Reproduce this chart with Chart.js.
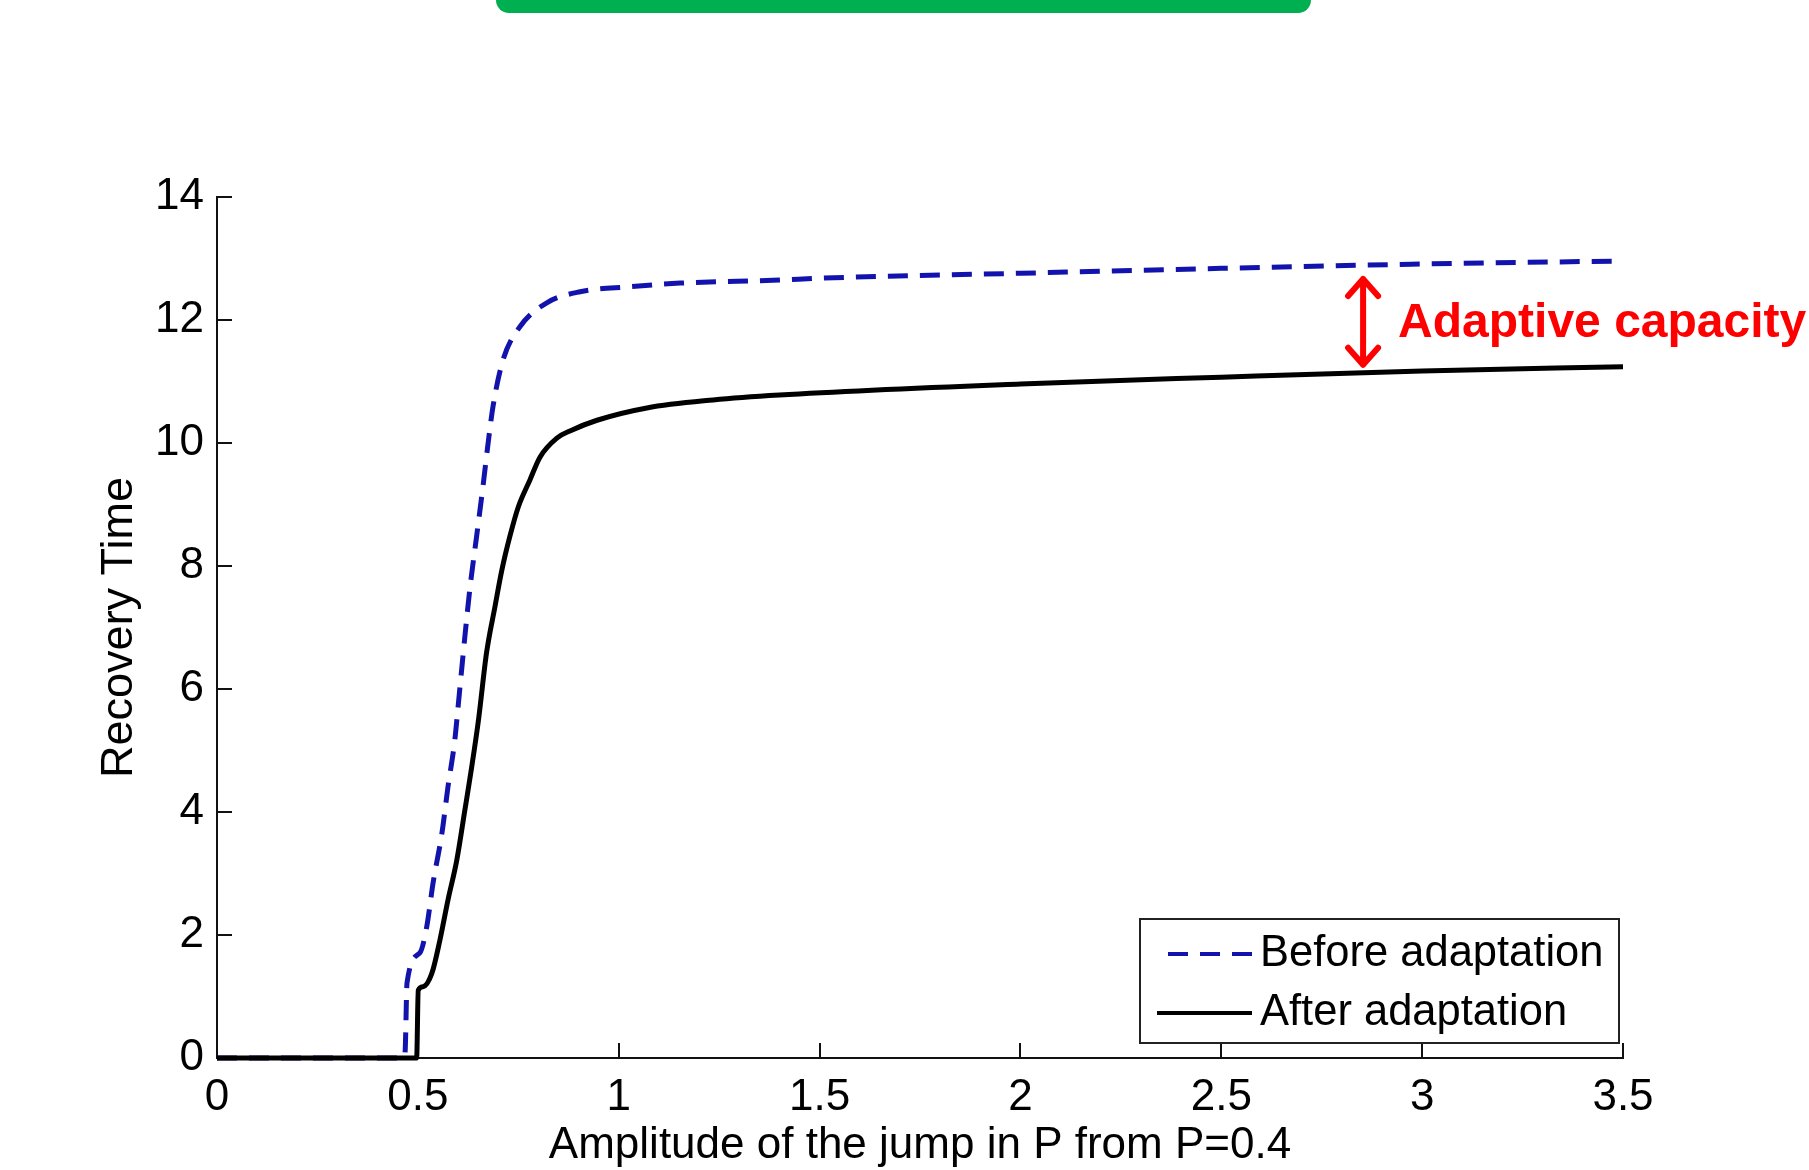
<!DOCTYPE html>
<html>
<head>
<meta charset="utf-8">
<script src="https://cdn.jsdelivr.net/npm/chart.js@4/dist/chart.umd.min.js"></script>
<style>
  body { margin: 0; background: #fff; }
  #wrap { position: relative; width: 1809px; height: 1170px; }
  #banner {
    position: absolute; left: 496px; top: 0; width: 815px; height: 13px;
    background: #00b050; border-radius: 0 0 16px 16px;
  }
  #chart { position: absolute; left: 0; top: 0; }
</style>
</head>
<body>
<div id="wrap">
  <canvas id="chart" width="1809" height="1170"></canvas>
  <div id="banner"></div>
</div>
<script>
// jump amplitude (x) and recovery time (y)
const beforeX = [0, 0.46, 0.468, 0.473, 0.505, 0.522, 0.538, 0.56, 0.575, 0.592, 0.6, 0.617,
  0.63, 0.646, 0.662, 0.674, 0.687, 0.712, 0.754, 0.821, 0.904, 1.028, 1.153, 1.4, 1.5,
  2.0, 2.5, 3.0, 3.5];
const beforeY = [0, 0, 0.08, 1.22, 1.71, 2.13, 2.85, 3.66, 4.41, 5.17, 5.7, 6.85,
  7.66, 8.47, 9.29, 9.95, 10.59, 11.35, 11.89, 12.28, 12.46, 12.54, 12.6, 12.65, 12.68,
  12.76, 12.84, 12.91, 12.96];

const afterX = [0, 0.497, 0.501, 0.513, 0.535, 0.555, 0.575, 0.597, 0.617, 0.634, 0.651,
  0.671, 0.692, 0.709, 0.729, 0.75, 0.779, 0.804, 0.846, 0.88, 0.946, 1.07, 1.235, 1.4,
  2.0, 2.5, 3.0, 3.5];
const afterY = [0, 0, 1.1, 1.16, 1.38, 1.92, 2.57, 3.22, 4.03, 4.73, 5.5,
  6.59, 7.34, 7.93, 8.48, 8.96, 9.4, 9.77, 10.08, 10.2, 10.37, 10.57, 10.7, 10.78,
  10.96, 11.07, 11.17, 11.24];

const seriesNames = ['Before adaptation', 'After adaptation'];
const xTicks = [0, 0.5, 1, 1.5, 2, 2.5, 3, 3.5];
const yTicks = [0, 2, 4, 6, 8, 10, 12, 14];

// annotation: arrow between the curves
const arrowX = 2.853;
const arrowTop = 12.7;
const arrowBottom = 11.24;
const arrowLabel = 'Adaptive capacity';

const FONT = '"Liberation Sans", Arial, Helvetica, sans-serif';

function toPoints(xs, ys) {
  return xs.map((x, i) => ({ x: x, y: ys[i] }));
}

// MATLAB style inward tick marks
const inwardTicks = {
  id: 'inwardTicks',
  beforeDatasetsDraw(chart) {
    const { ctx, scales: { x, y }, chartArea } = chart;
    ctx.save();
    ctx.strokeStyle = '#111';
    ctx.lineWidth = 2;
    ctx.beginPath();
    for (const v of xTicks) {
      const px = Math.round(x.getPixelForValue(v));
      ctx.moveTo(px, chartArea.bottom);
      ctx.lineTo(px, chartArea.bottom - 15);
    }
    for (const v of yTicks) {
      const py = Math.round(y.getPixelForValue(v));
      ctx.moveTo(chartArea.left, py);
      ctx.lineTo(chartArea.left + 15, py);
    }
    ctx.stroke();
    ctx.restore();
  }
};

const boxLegend = {
  id: 'boxLegend',
  afterDatasetsDraw(chart) {
    const ctx = chart.ctx;
    const left = 1140, top = 919, w = 479, h = 124;
    ctx.save();
    ctx.fillStyle = '#fff';
    ctx.fillRect(left, top, w, h);
    ctx.strokeStyle = '#222';
    ctx.lineWidth = 2;
    ctx.strokeRect(left, top, w, h);
    const rows = [954, 1013];
    const starts = [1168, 1157];
    chart.data.datasets.forEach((ds, i) => {
      ctx.strokeStyle = ds.borderColor;
      ctx.lineWidth = 4;
      ctx.setLineDash(ds.borderDash || []);
      ctx.beginPath();
      ctx.moveTo(starts[i], rows[i]);
      ctx.lineTo(1252, rows[i]);
      ctx.stroke();
      ctx.setLineDash([]);
      ctx.fillStyle = '#000';
      ctx.font = '43.5px ' + FONT;
      ctx.textBaseline = 'middle';
      ctx.textAlign = 'left';
      ctx.fillText(ds.label, 1260, rows[i]);
    });
    ctx.restore();
  }
};

const capacityArrow = {
  id: 'capacityArrow',
  afterDatasetsDraw(chart) {
    const { ctx, scales: { x, y } } = chart;
    const px = x.getPixelForValue(arrowX);
    const y1 = y.getPixelForValue(arrowTop);
    const y2 = y.getPixelForValue(arrowBottom);
    ctx.save();
    ctx.strokeStyle = '#ff0000';
    ctx.lineWidth = 6;
    ctx.lineCap = 'round';
    ctx.lineJoin = 'round';
    ctx.beginPath();
    ctx.moveTo(px, y1 + 2);
    ctx.lineTo(px, y2 - 2);
    ctx.moveTo(px - 15, y1 + 19);
    ctx.lineTo(px, y1 + 2);
    ctx.lineTo(px + 15, y1 + 19);
    ctx.moveTo(px - 15, y2 - 19);
    ctx.lineTo(px, y2 - 2);
    ctx.lineTo(px + 15, y2 - 19);
    ctx.stroke();
    ctx.fillStyle = '#ff0000';
    ctx.font = 'bold 48px ' + FONT;
    ctx.textBaseline = 'middle';
    ctx.textAlign = 'left';
    ctx.fillText(arrowLabel, px + 35, (y1 + y2) / 2 + 2);
    ctx.restore();
  }
};

new Chart(document.getElementById('chart'), {
  type: 'scatter',
  data: {
    datasets: [
      {
        label: seriesNames[0],
        data: toPoints(beforeX, beforeY),
        showLine: true,
        borderColor: '#1212ad',
        borderWidth: 5,
        borderDash: [20, 12],
        pointRadius: 0,
        cubicInterpolationMode: 'monotone',
        clip: 8,
        order: 1,
      },
      {
        label: seriesNames[1],
        data: toPoints(afterX, afterY),
        showLine: true,
        borderColor: '#000000',
        borderWidth: 5,
        pointRadius: 0,
        cubicInterpolationMode: 'monotone',
        clip: 8,
        order: 0,
      },
    ],
  },
  options: {
    responsive: false,
    animation: false,
    devicePixelRatio: 1,
    layout: { padding: { left: 0, right: 186, top: 197, bottom: 0 } },
    plugins: {
      legend: { display: false },
      tooltip: { enabled: false },
    },
    scales: {
      x: {
        type: 'linear',
        min: 0,
        max: 3.5,
        afterBuildTicks: axis => { axis.ticks = xTicks.map(v => ({ value: v })); },
        afterFit: axis => { axis.height = 112; },
        grid: { display: false, drawTicks: false },
        border: { display: true, color: '#111', width: 2 },
        ticks: {
          padding: 13,
          color: '#000',
          font: { family: FONT, size: 44 },
          maxRotation: 0,
          callback: v => String(v),
        },
        title: {
          display: true,
          text: 'Amplitude of the jump in P from P=0.4',
          color: '#000',
          font: { family: FONT, size: 44 },
          padding: { top: 0, bottom: -2 },
        },
      },
      y: {
        type: 'linear',
        min: 0,
        max: 14,
        afterBuildTicks: axis => { axis.ticks = yTicks.map(v => ({ value: v })); },
        afterFit: axis => { axis.width = 217; },
        grid: { display: false, drawTicks: false },
        border: { display: true, color: '#111', width: 2 },
        ticks: {
          padding: 13,
          color: '#000',
          font: { family: FONT, size: 44 },
          callback: v => String(v),
        },
        title: {
          display: true,
          text: 'Recovery Time',
          color: '#000',
          font: { family: FONT, size: 45 },
          padding: { top: 93, bottom: 0 },
        },
      },
    },
  },
  plugins: [inwardTicks, boxLegend, capacityArrow],
});
</script>
</body>
</html>
